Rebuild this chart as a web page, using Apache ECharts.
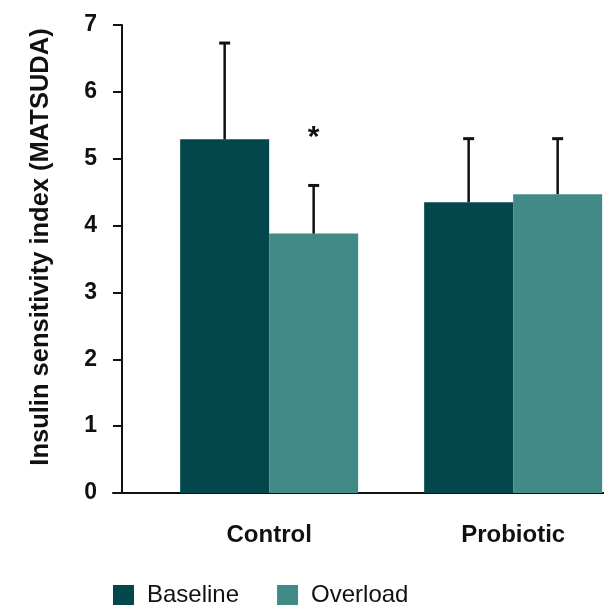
<!DOCTYPE html>
<html>
<head>
<meta charset="utf-8">
<script src="https://cdn.jsdelivr.net/npm/echarts@6/dist/echarts.min.js"></script>
<style>
html,body{margin:0;padding:0;background:#fff;}
#chart{width:604px;height:605px;}
</style>
</head>
<body>
<div id="chart"></div>
<script>
// ---- data ----
const categories = ['Control', 'Probiotic'];
const seriesNames = ['Baseline', 'Overload'];
const baselineMeans = [5.29, 4.35];
const overloadMeans = [3.88, 4.47];
const baselineErrTop = [6.73, 5.30];
const overloadErrTop = [4.60, 5.30];
const yTicks = [0, 1, 2, 3, 4, 5, 6, 7];
const significance = [{ category: 'Control', series: 'Overload', y: 5.38, label: '*' }];

// ---- style ----
const COLORS = ['#03464B', '#428A88'];
const BAR_W = 89;
const FONT = 'Liberation Sans';
const INK = '#111111';

const chart = echarts.init(document.getElementById('chart'), null, { renderer: 'canvas' });

const catIndex = name => categories.indexOf(name);

const barData = means => means.map((v, i) => [i, v]);

const errData = [];
baselineMeans.forEach((m, i) => errData.push([i, m, baselineErrTop[i], -1]));
overloadMeans.forEach((m, i) => errData.push([i, m, overloadErrTop[i], 1]));

const sigData = significance.map(s => [catIndex(s.category), s.y, seriesNames.indexOf(s.series) === 0 ? -1 : 1, s.label]);

const option = {
  animation: false,
  backgroundColor: '#ffffff',
  color: COLORS,
  grid: { left: 113, right: 0, top: 25, bottom: 112, containLabel: false },
  legend: {
    data: seriesNames,
    left: 108,
    top: 578,
    icon: 'rect',
    itemWidth: 21,
    itemHeight: 20,
    itemGap: 38,
    textStyle: { fontFamily: FONT, fontSize: 24, color: INK, padding: [0, 0, 0, 8] }
  },
  xAxis: {
    type: 'value',
    min: -0.64,
    max: 1.37,
    interval: 0.01,
    splitLine: { show: false },
    axisTick: { show: false },
    axisLine: { show: true, onZero: false, lineStyle: { color: INK, width: 2 } },
    axisLabel: {
      show: true,
      margin: 30,
      fontFamily: FONT,
      fontWeight: 'bold',
      fontSize: 24,
      color: INK,
      showMinLabel: false,
      showMaxLabel: false,
      formatter: v => {
        const r = Math.round(v);
        if (Math.abs(v - r) < 1e-6 && r >= 0 && r < categories.length) return categories[r];
        return '';
      }
    }
  },
  yAxis: {
    type: 'value',
    min: yTicks[0],
    max: yTicks[yTicks.length - 1],
    interval: 1,
    offset: -9,
    name: 'Insulin sensitivity index (MATSUDA)',
    nameLocation: 'middle',
    nameGap: 68,
    nameTextStyle: { fontFamily: FONT, fontWeight: 'bold', fontSize: 25.5, color: INK, padding: [0, 0, 0, 24] },
    splitLine: { show: false },
    axisLine: { show: true, onZero: false, lineStyle: { color: INK, width: 2 } },
    axisTick: { show: true, inside: false, length: 9, lineStyle: { color: INK, width: 2 } },
    axisLabel: { margin: 25, fontFamily: FONT, fontWeight: 'bold', fontSize: 23, color: INK }
  },
  series: [
    {
      name: seriesNames[0], type: 'bar', data: barData(baselineMeans),
      barWidth: BAR_W, barGap: '0%', itemStyle: { color: COLORS[0] }, z: 2
    },
    {
      name: seriesNames[1], type: 'bar', data: barData(overloadMeans),
      barWidth: BAR_W, barGap: '0%', itemStyle: { color: COLORS[1] }, z: 2
    },
    {
      type: 'custom', name: 'err', data: errData, z: 3, silent: true,
      encode: { x: 0, y: 2 },
      renderItem: (params, api) => {
        const xv = api.value(0), mean = api.value(1), top = api.value(2), side = api.value(3);
        const p0 = api.coord([xv, mean]);
        const p1 = api.coord([xv, top]);
        const cx = p0[0] + side * BAR_W / 2;
        return {
          type: 'group',
          children: [
            { type: 'line', shape: { x1: cx, y1: p0[1], x2: cx, y2: p1[1] }, style: { stroke: INK, lineWidth: 2.5 } },
            { type: 'line', shape: { x1: cx - 5.5, y1: p1[1], x2: cx + 5.5, y2: p1[1] }, style: { stroke: INK, lineWidth: 3 } }
          ]
        };
      }
    },
    {
      type: 'custom', name: 'sig', data: sigData, z: 3, silent: true,
      encode: { x: 0, y: 1 },
      renderItem: (params, api) => {
        const p = api.coord([api.value(0), api.value(1)]);
        const side = api.value(2);
        return {
          type: 'text',
          style: {
            x: p[0] + side * BAR_W / 2, y: p[1] + 4,
            text: sigData[params.dataIndex][3],
            fill: INK, font: 'bold 30px "' + FONT + '"',
            align: 'center', verticalAlign: 'middle'
          }
        };
      }
    }
  ]
};

chart.setOption(option);
</script>
</body>
</html>
